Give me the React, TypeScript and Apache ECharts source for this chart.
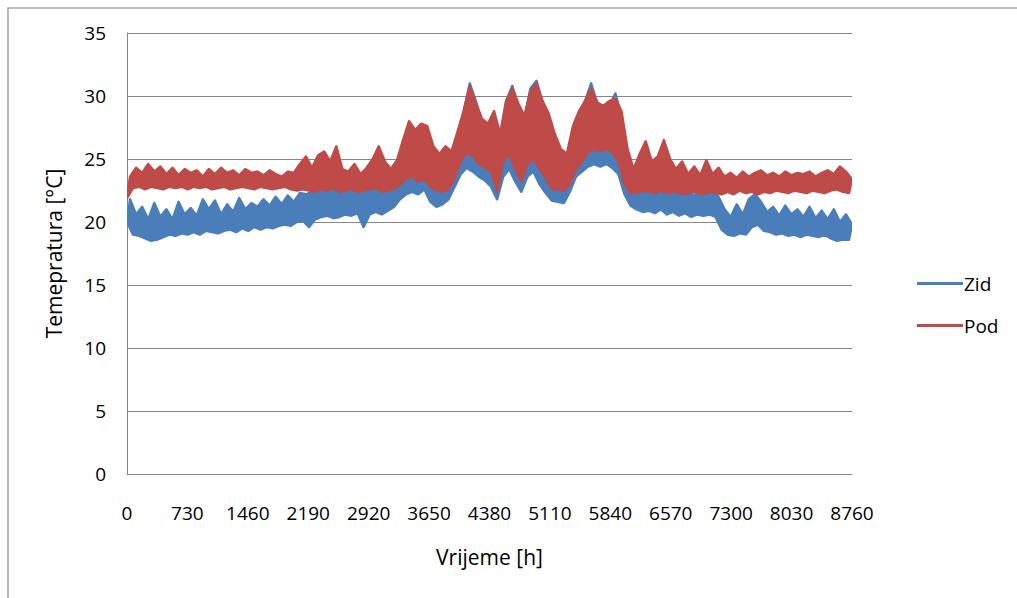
import React, { useEffect, useRef } from "react";
import * as echarts from "echarts";

const xTicks = [0, 730, 1460, 2190, 2920, 3650, 4380, 5110, 5840, 6570, 7300, 8030, 8760];
const seriesNames = ["Zid", "Pod"];

// Each pair = (low, high) of the daily swing over consecutive 73-hour blocks
const zidLow = [
  20.0, 19.0, 18.9, 18.7, 18.5, 18.6, 18.8, 19.0, 18.9, 19.1,
  19.0, 19.2, 19.0, 19.3, 19.2, 19.1, 19.3, 19.4, 19.2, 19.5,
  19.3, 19.6, 19.4, 19.6, 19.5, 19.7, 19.8, 19.7, 20.0, 20.1,
  19.6, 20.2, 20.4, 20.5, 20.3, 20.4, 20.6, 20.5, 20.7, 19.6,
  20.6, 20.8, 20.6, 20.9, 21.2, 21.8, 22.2, 22.4, 22.2, 22.6,
  21.6, 21.2, 21.4, 21.8, 22.8, 23.8, 24.3, 24.0, 23.6, 23.3,
  22.8, 21.8, 23.6, 24.2, 23.2, 22.4, 23.6, 24.0, 23.0, 22.3,
  21.7, 21.6, 21.5, 22.4, 23.6, 24.0, 24.4, 24.6, 24.4, 24.6,
  24.3, 23.8, 22.2, 21.3, 21.0, 20.8, 20.9, 20.7, 21.0, 20.6,
  20.8, 20.5, 20.7, 20.4, 20.6, 20.5, 20.6, 20.4, 19.4, 19.0,
  18.9, 19.1, 19.0, 19.6, 19.8, 19.3, 19.2, 19.0, 19.1, 18.9,
  19.0, 18.8, 19.0, 18.9, 18.8, 19.0, 18.7, 18.5, 18.6, 18.6,
];
const zidHigh = [
  21.8, 20.6, 21.2, 20.2, 21.5, 20.4, 21.0, 20.2, 21.6, 20.6,
  21.1, 20.5, 21.8, 21.0, 21.7, 20.6, 21.4, 20.8, 21.9, 21.0,
  21.5, 21.2, 21.8, 21.3, 22.0, 21.4, 22.1, 21.6, 22.3, 22.2,
  22.4, 22.3, 22.6, 22.4, 22.8, 22.5, 22.4, 22.6, 22.5, 22.4,
  22.8, 23.0, 22.6, 22.8, 23.4, 25.0, 27.0, 26.4, 27.0, 26.8,
  25.2, 24.6, 25.4, 25.0, 27.0, 28.8, 31.0, 29.6, 28.0, 27.6,
  28.6, 26.6, 29.6, 30.8, 29.2, 28.2, 30.6, 31.2, 29.4, 28.2,
  26.6, 25.4, 25.0, 27.4, 28.6, 29.6, 31.0, 29.4, 28.8, 29.2,
  30.2, 28.4, 25.2, 23.6, 23.0, 22.8, 22.4, 22.6, 22.8, 22.2,
  22.5, 22.2, 22.4, 22.1, 22.3, 22.2, 22.4, 22.0, 21.0, 20.4,
  21.4, 20.6, 21.8, 22.2, 21.6, 20.8, 21.2, 20.5, 21.3, 20.6,
  21.0, 20.4, 21.2, 20.3, 20.9, 20.2, 21.0, 20.0, 20.6, 19.8,
];
const podLow = [
  21.9, 22.7, 22.8, 22.6, 22.8, 22.7, 22.6, 22.8, 22.7, 22.8,
  22.6, 22.8, 22.7, 22.8, 22.6, 22.7, 22.8, 22.6, 22.7, 22.8,
  22.7, 22.6, 22.8, 22.7, 22.6, 22.7, 22.8, 22.6, 22.5, 22.6,
  22.5, 22.4, 22.6, 22.5, 22.7, 22.4, 22.5, 22.6, 22.4, 22.5,
  22.6, 22.7, 22.4, 22.5, 22.6, 23.0, 23.4, 23.6, 23.2, 23.4,
  22.8, 22.5, 22.4, 22.6, 23.5, 24.8, 25.5, 25.2, 24.6, 24.3,
  24.0, 22.4, 24.8, 25.4, 24.2, 23.2, 24.6, 25.0, 24.2, 23.5,
  22.6, 22.6, 22.5, 23.0, 24.2, 24.8, 25.5, 25.8, 25.6, 25.8,
  25.5, 24.8, 23.0, 22.3, 22.3, 22.5, 22.4, 22.3, 22.5, 22.3,
  22.4, 22.3, 22.2, 22.4, 22.3, 22.2, 22.4, 22.3, 22.2, 22.4,
  22.2, 22.5, 22.3, 22.4, 22.2, 22.4, 22.3, 22.5, 22.4, 22.3,
  22.5, 22.4, 22.3, 22.5, 22.4, 22.3, 22.5, 22.6, 22.4, 22.3,
];
const podHigh = [
  23.6, 24.3, 23.9, 24.6, 24.0, 24.4, 23.8, 24.3, 23.7, 24.2,
  23.9, 24.1, 23.6, 24.2, 23.8, 24.3, 23.9, 24.1, 23.7, 24.2,
  23.9, 24.0, 23.7, 24.1, 23.8, 23.6, 24.0, 23.9, 24.6, 25.2,
  24.3, 25.3, 25.6, 24.8, 26.0, 24.2, 24.0, 24.6, 23.8, 24.3,
  25.0, 26.0, 24.8, 24.2, 24.9, 26.5, 28.0, 27.3, 27.8, 27.6,
  26.0, 25.4, 26.0, 25.6, 27.2, 28.8, 30.8, 29.4, 28.2, 27.8,
  28.8, 27.0, 29.6, 30.6, 29.4, 28.4, 30.4, 31.0, 29.6, 28.6,
  27.0, 25.8, 25.4, 27.6, 28.8, 29.6, 30.6, 29.5, 29.2, 29.6,
  29.8, 28.8, 25.8, 24.2, 25.4, 26.4, 24.8, 25.2, 26.5, 25.0,
  24.2, 24.8, 23.8, 24.4, 23.7, 24.9, 23.8, 24.3, 23.6, 23.9,
  23.5, 24.0, 23.6, 23.9, 24.1, 23.7, 23.9, 23.6, 24.0, 23.7,
  23.9, 23.8, 24.0, 23.6, 23.9, 24.1, 23.8, 24.4, 24.0, 23.4,
];

const HOURS = 8760;
const FONT = "'Open Sans', 'Liberation Sans', sans-serif";
const COLORS = ["#4a7ebb", "#be4b48"];

function bandSeries(name: string, lo: number[], hi: number[], color: string) {
  const n = lo.length * 2;
  const step = HOURS / (n - 1);
  return {
    type: "custom",
    name,
    clip: true,
    data: [[0, lo[0]], [HOURS, lo[lo.length - 1]]],
    encode: { x: 0, y: 1 },
    itemStyle: { color },
    renderItem: (params: any, api: any) => {
      if (params.dataIndex !== 0) return null;
      const upper = hi.map((v, i) => api.coord([(2 * i + 1) * step, v]));
      const lower = lo.map((v, i) => api.coord([2 * i * step, v])).reverse();
      return {
        type: "polygon",
        shape: { points: [...upper, ...lower] },
        style: { fill: color, stroke: color, lineWidth: 2.5, lineJoin: "round" },
      };
    },
  };
}

export default function App() {
  const ref = useRef<HTMLDivElement>(null);
  useEffect(() => {
    if (!ref.current) return;
    const chart = echarts.init(ref.current, undefined, { renderer: "svg" });
    chart.setOption({
      animation: false,
      backgroundColor: "#ffffff",
      textStyle: { fontFamily: FONT, color: "#000" },
      grid: { left: 127, top: 33, width: 725, height: 441, containLabel: false },
      graphic: [
        {
          type: "rect",
          shape: { x: 8, y: 8, width: 1030, height: 620 },
          style: { fill: "none", stroke: "#a6a6a6", lineWidth: 1.5 },
          silent: true,
        },
      ],
      legend: {
        orient: "vertical",
        left: 912,
        top: 269,
        itemGap: 23,
        itemWidth: 46,
        itemHeight: 3,
        icon: "rect",
        textStyle: { fontFamily: FONT, fontSize: 19, color: "#000", padding: [0, 0, 0, -4] },
        data: seriesNames.map((n, i) => ({ name: n, itemStyle: { color: COLORS[i] } })),
      },
      xAxis: {
        type: "value",
        min: 0,
        max: 8760,
        interval: 730,
        name: "Vrijeme [h]",
        nameLocation: "middle",
        nameGap: 72,
        nameTextStyle: { fontFamily: FONT, fontSize: 21, color: "#000" },
        axisLine: { show: true, lineStyle: { color: "#868686", width: 1 } },
        axisTick: { show: false },
        splitLine: { show: false },
        axisLabel: {
          fontFamily: FONT,
          fontSize: 19,
          color: "#000",
          margin: 29,
          formatter: (v: number) => (xTicks.includes(v) ? String(v) : ""),
        },
      },
      yAxis: {
        type: "value",
        min: 0,
        max: 35,
        interval: 5,
        name: "Temepratura [°C]",
        nameLocation: "middle",
        nameGap: 63,
        nameTextStyle: { fontFamily: FONT, fontSize: 21, color: "#000" },
        axisLine: { show: true, lineStyle: { color: "#868686", width: 1 } },
        axisTick: { show: false },
        splitLine: { show: true, lineStyle: { color: "#868686", width: 1 } },
        axisLabel: { fontFamily: FONT, fontSize: 19, color: "#000", margin: 21 },
      },
      series: [
        bandSeries(seriesNames[0], zidLow, zidHigh, COLORS[0]),
        bandSeries(seriesNames[1], podLow, podHigh, COLORS[1]),
      ],
    });
    return () => chart.dispose();
  }, []);
  return (
    <div
      ref={ref}
      style={{ position: "fixed", left: 0, top: 0, width: 1017, height: 598 }}
    />
  );
}
